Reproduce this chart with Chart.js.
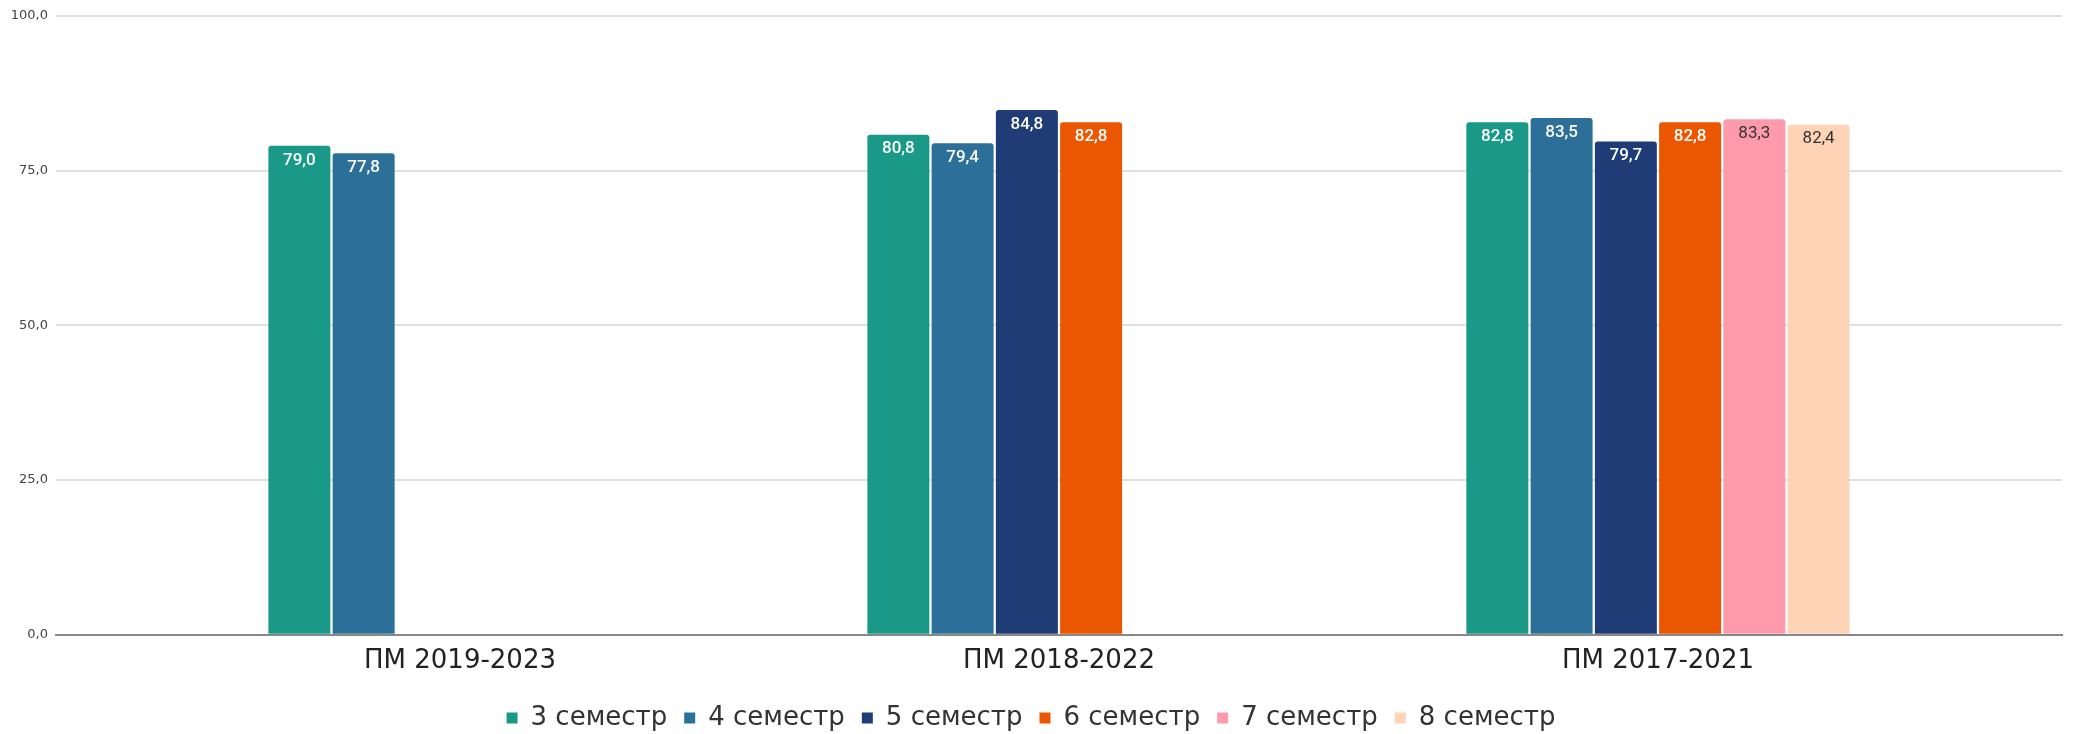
<!DOCTYPE html>
<html>
<head>
<meta charset="utf-8">
<script src="https://cdn.jsdelivr.net/npm/chart.js@4"></script>
<style>
  html, body { margin: 0; padding: 0; background: #fff; }
  #wrap { width: 2074px; height: 734px; position: relative; }
</style>
</head>
<body>
<div id="wrap"><canvas id="chart"></canvas></div>
<script>
// ---- Daten ----
const categories = ['ПМ 2019-2023', 'ПМ 2018-2022', 'ПМ 2017-2021'];
const seriesNames = ['3 семестр', '4 семестр', '5 семестр', '6 семестр', '7 семестр', '8 семестр'];
const sem3 = [79.0, 80.8, 82.8];
const sem4 = [77.8, 79.4, 83.5];
const sem5 = [null, 84.8, 79.7];
const sem6 = [null, 82.8, 82.8];
const sem7 = [null, null, 83.3];
const sem8 = [null, null, 82.4];
const yTicks = [0, 25, 50, 75, 100];

const colors = ['#1a9988', '#2c7099', '#1f3c77', '#eb5600', '#ff9aac', '#ffd3b6'];
const labelColors = ['#fff', '#fff', '#fff', '#fff', '#333', '#333'];

const fmt = v => v.toFixed(1).replace('.', ',');

const datasets = [sem3, sem4, sem5, sem6, sem7, sem8].map((values, i) => ({
    label: seriesNames[i],
    data: values.map((v, j) => ({ x: j, y: v })),
    backgroundColor: colors[i],
    borderWidth: 0,
    borderRadius: { topLeft: 3, topRight: 3 },
    categoryPercentage: 0.6436,
    barPercentage: 0.965
}));

// ---- Werte in die Balken schreiben ----
const valueLabels = {
    id: 'valueLabels',
    afterDatasetsDraw(chart) {
        const ctx = chart.ctx;
        ctx.save();
        ctx.textAlign = 'center';
        ctx.textBaseline = 'middle';
        chart.data.datasets.forEach((ds, i) => {
            const meta = chart.getDatasetMeta(i);
            meta.data.forEach((bar, j) => {
                const v = ds.data[j].y;
                if (v === null) return;
                ctx.font = (i < 4 ? '500 ' : '') + '17px Roboto';
                ctx.fillStyle = labelColors[i];
                ctx.fillText(fmt(v), bar.x, bar.y + 14.5);
            });
        });
        ctx.restore();
    }
};

new Chart(document.getElementById('chart'), {
    type: 'bar',
    data: { datasets },
    options: {
        responsive: true,
        maintainAspectRatio: false,
        animation: false,
        devicePixelRatio: 1,
        layout: { padding: { left: 0, right: 12, top: 10, bottom: -7 } },
        plugins: {
            tooltip: { enabled: false },
            legend: {
                position: 'bottom',
                labels: {
                    boxWidth: 11,
                    boxHeight: 11,
                    padding: 17,
                    color: '#333',
                    font: { family: 'DejaVu Sans', size: 26 }
                }
            }
        },
        scales: {
            x: {
                type: 'linear',
                offset: false,
                min: -0.6745,
                max: 2.6745,
                afterBuildTicks: s => { s.ticks = categories.map((_, i) => ({ value: i })); },
                ticks: {
                    callback: v => categories[v],
                    color: '#222',
                    padding: 11,
                    autoSkip: false,
                    maxRotation: 0,
                    font: { family: 'DejaVu Sans', size: 26 }
                },
                grid: { display: false, drawTicks: false, offset: false },
                border: { display: true, color: '#888', width: 2 }
            },
            y: {
                min: 0,
                max: 100,
                afterBuildTicks: s => { s.ticks = yTicks.map(v => ({ value: v })); },
                afterFit: s => { s.width = 56; },
                ticks: {
                    callback: v => fmt(v),
                    color: '#444',
                    padding: 8,
                    font: { family: 'DejaVu Sans', size: 13 }
                },
                grid: { color: '#e0e0e0', lineWidth: 2, drawTicks: false },
                border: { display: false }
            }
        }
    },
    plugins: [valueLabels]
});
</script>
</body>
</html>
